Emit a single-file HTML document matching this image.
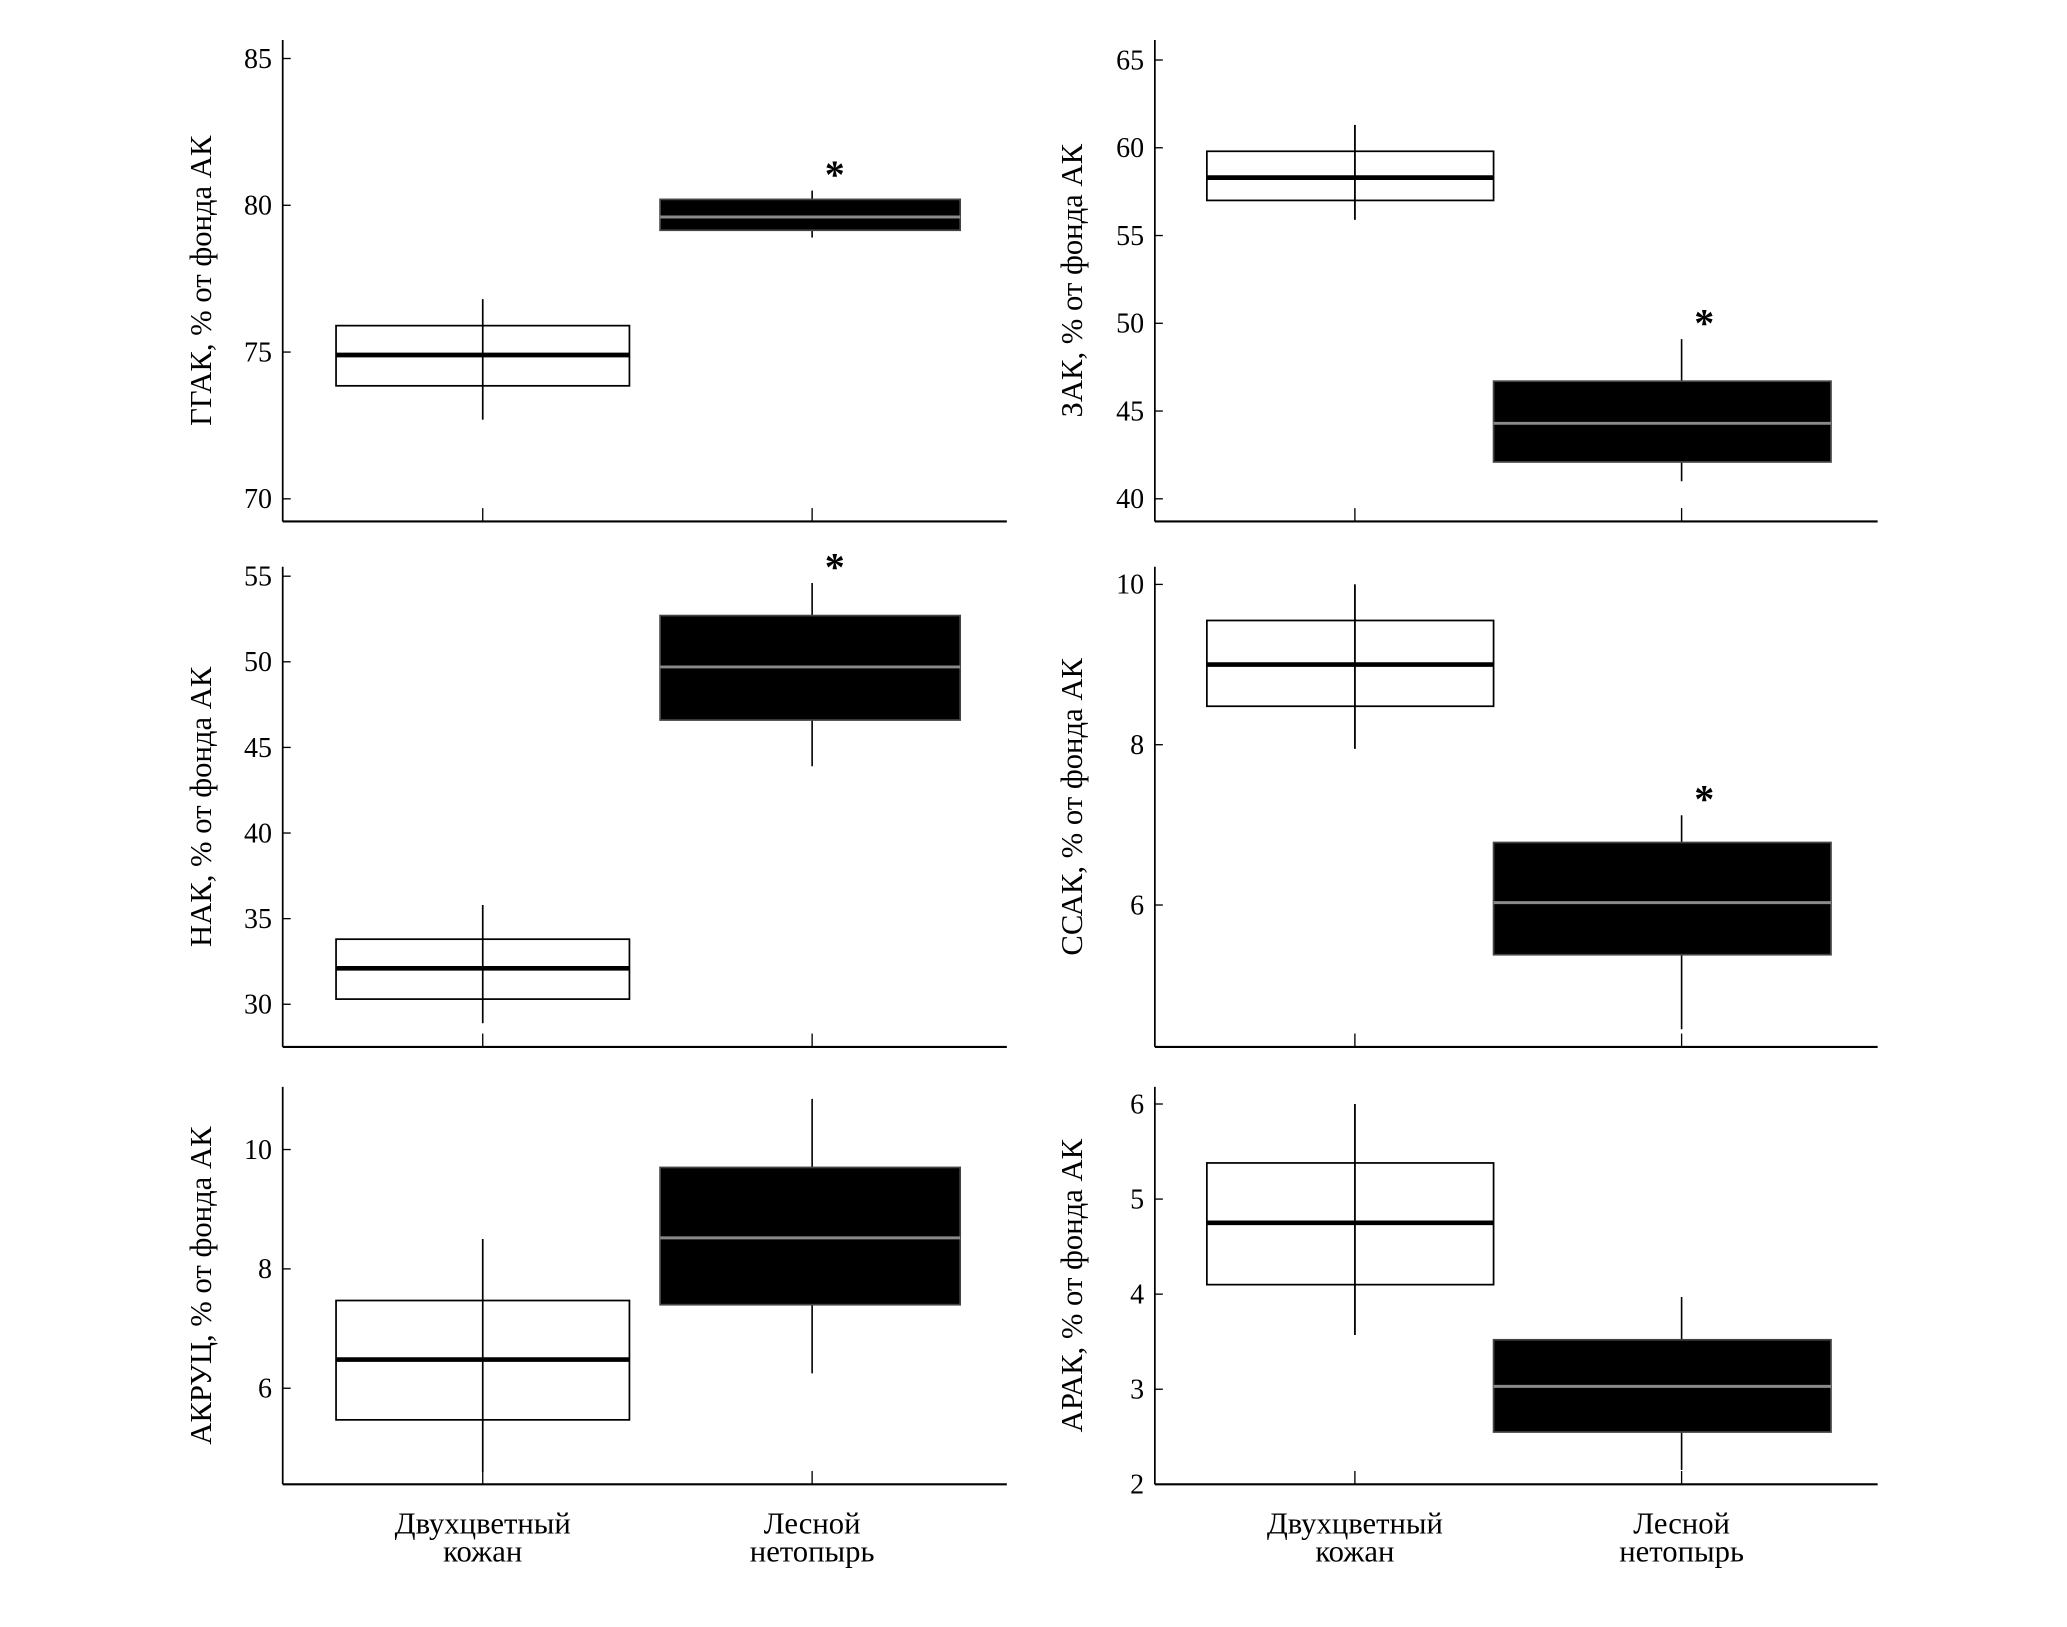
<!DOCTYPE html>
<html><head><meta charset="utf-8"><style>
html,body{margin:0;padding:0;background:#fff;}
svg{display:block;}
text{font-family:"Liberation Serif","DejaVu Serif",serif;fill:#000;}
</style></head><body>
<svg id="chart" width="2067" height="1627" viewBox="0 0 1550 1220" preserveAspectRatio="none" xmlns="http://www.w3.org/2000/svg"></svg>
<script>
// Data arrays
const categories = ["Двухцветный|кожан", "Лесной|нетопырь"];
const yTitles = ["ГГАК, % от фонда АК","ЗАК, % от фонда АК","НАК, % от фонда АК","ССАК, % от фонда АК","АКРУЦ, % от фонда АК","АРАК, % от фонда АК"];
const yTicks = [[70,75,80,85],[40,45,50,55,60,65],[30,35,40,45,50,55],[6,8,10],[6,8,10],[2,3,4,5,6]];
const yDomains = [[69.23,85.63],[38.71,66.14],[27.51,55.55],[4.23,10.22],[4.39,11.05],[2,6.18]];
// per panel: [group1, group2] each as [whiskerLow, q1, median, q3, whiskerHigh]
const boxStatsG1 = [[72.7,73.85,74.9,75.9,76.8],[55.9,57.0,58.3,59.8,61.3],[28.9,30.3,32.1,33.8,35.8],[7.95,8.48,9.0,9.55,10.0],[4.6,5.47,6.48,7.47,8.5],[3.57,4.1,4.75,5.38,6.0]];
const boxStatsG2 = [[78.9,79.15,79.6,80.2,80.5],[41.0,42.1,44.3,46.7,49.1],[43.9,46.6,49.7,52.7,54.6],[4.45,5.38,6.03,6.78,7.12],[6.25,7.4,8.52,9.7,10.85],[2.15,2.55,3.03,3.52,3.97]];
const significant = [true,true,true,true,false,false];

// Layout
const NS="http://www.w3.org/2000/svg";
const svg=document.getElementById('chart');
const cols=[{ax:212,right:755,cx:[362,609],bx:[[252,472],[495,720]],lx:153},{ax:866,right:1408,cx:[1016,1261],bx:[[905,1120],[1120,1373]],lx:806}];
const rows=[{top:30,bot:391},{top:425,bot:785},{top:815,bot:1113}];
function mk(tag,attrs,parent){const e=document.createElementNS(NS,tag);for(const k in attrs)e.setAttribute(k,attrs[k]);(parent||svg).appendChild(e);return e;}
for(let p=0;p<6;p++){
  const c=cols[p%2], r=rows[Math.floor(p/2)];
  const g=mk('g',{});
  
  
  const [d0,d1]=yDomains[p];
  const y=v=>r.bot-(v-d0)/(d1-d0)*(r.bot-r.top);
  const ya=mk('line',{x1:c.ax,y1:r.top,x2:c.ax,y2:r.bot,stroke:'#000','stroke-width':1.3},g);
  
  
  const xa=mk('line',{x1:c.ax,y1:r.bot,x2:c.right,y2:r.bot,stroke:'#000','stroke-width':1.6},g);
  
  
  yTicks[p].forEach(v=>{
    mk('line',{x1:c.ax,y1:y(v),x2:c.ax+6,y2:y(v),stroke:'#000','stroke-width':1},g);
    const t=mk('text',{x:c.ax-8,y:y(v)+7,'text-anchor':'end','font-size':21},g);
    t.textContent=v;
    
    
  });
  c.cx.forEach(x=>mk('line',{x1:x,y1:r.bot-10,x2:x,y2:r.bot,stroke:'#000','stroke-width':1},g));
  const cyl=(r.top+r.bot)/2;
  const yt=mk('text',{x:c.lx,y:cyl,'text-anchor':'middle','font-size':23,transform:`rotate(-90 ${c.lx} ${cyl})`,'dominant-baseline':'middle'},g);
  yt.textContent=yTitles[p];
  
  
  [boxStatsG1[p],boxStatsG2[p]].forEach((s,i)=>{
    const [x0,x1]=c.bx[i], cx=c.cx[i], dark=i===1;
    const wl=mk('line',{x1:cx,y1:y(s[0]),x2:cx,y2:y(s[4]),stroke:'#000','stroke-width':1.2},g);
    
    
    const b=mk('rect',{x:x0,y:y(s[3]),width:x1-x0,height:y(s[1])-y(s[3]),fill:dark?'#000':'none',stroke:dark?'#444':'#000','stroke-width':1.3},g);
    
    
    if(!dark) mk('line',{x1:cx,y1:y(s[0]),x2:cx,y2:y(s[4]),stroke:'#000','stroke-width':1.2},g);
    const m=mk('line',{x1:x0,y1:y(s[2]),x2:x1,y2:y(s[2]),stroke:dark?'#8a8a8a':'#000','stroke-width':dark?2.2:3.5},g);
    
    
  });
  if(significant[p]){
    const st=mk('text',{x:c.cx[1]+17,y:y(boxStatsG2[p][4])-2,'text-anchor':'middle','font-size':30,'font-weight':'bold'},g);
    st.textContent='*';
    
    
  }
  if(p>=4){
    categories.forEach((cat,i)=>{
      const [a,b2]=cat.split('|');
      const t=mk('text',{x:c.cx[i],y:1150,'text-anchor':'middle','font-size':23},g);
      t.textContent=a;
      
      
      const t2=mk('text',{x:c.cx[i],y:1171,'text-anchor':'middle','font-size':23},g);
      t2.textContent=b2;
      
      
    });
  }
}
</script>
</body></html>
